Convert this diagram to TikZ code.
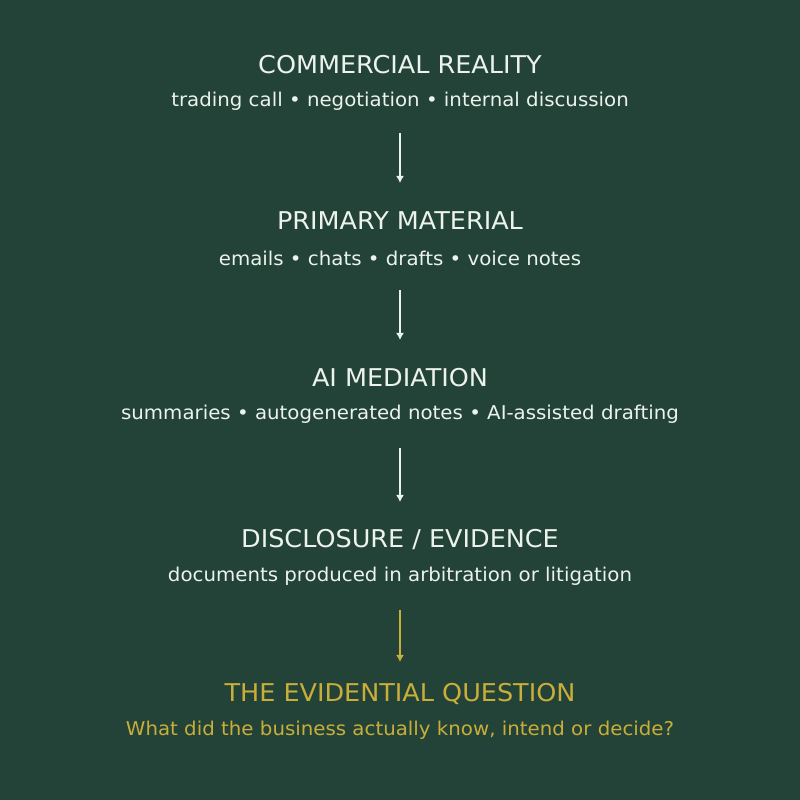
\documentclass[tikz,border=0pt]{standalone}
\usepackage{fontspec}
\setmainfont{DejaVu Sans}[FakeStretch=1.04]
\usepackage{tikz}
\usetikzlibrary{arrows,arrows.meta}
\definecolor{bgreen}{RGB}{35,67,56}
\definecolor{chalk}{RGB}{236,242,236}
\definecolor{gold}{RGB}{201,174,58}

\begin{document}
\begin{tikzpicture}[>={Latex[length=7bp,width=8bp]},x=1bp,y=1bp]
 \tikzstyle{stage}=[text=chalk,font=\fontsize{24.6}{28}\selectfont]
 \tikzstyle{detail}=[text=chalk,font=\fontsize{19.1}{22}\selectfont]
 \tikzstyle{link}=[->,draw=chalk,line width=1.5bp]
 \fill[bgreen] (0,0) rectangle (800,800);
 \useasboundingbox (0,0) rectangle (800,800);

 \node (real) at (400,735) [stage] {COMMERCIAL REALITY};
 \node (realsub) at (400,699) [detail] {trading call • negotiation • internal discussion};
 \node (prim) at (400,579) [stage] {PRIMARY MATERIAL};
 \node (primsub) at (400,542) [detail] {emails • chats • drafts • voice notes};
 \node (ai) at (400,422) [stage] {AI MEDIATION};
 \node (aisub) at (400,386) [detail] {summaries • autogenerated notes • AI-assisted drafting};
 \node (disc) at (400,260) [stage] {DISCLOSURE / EVIDENCE};
 \node (discsub) at (400,224) [detail] {documents produced in arbitration or litigation};
 \node (quest) at (400,106) [stage,text=gold] {THE EVIDENTIAL QUESTION};
 \node (questsub) at (400,70) [detail,text=gold] {What did the business actually know, intend or decide?};

 \draw [link] ([yshift=-32bp]realsub.center) to ([yshift=38bp]prim.center);
 \draw [link] ([yshift=-32bp]primsub.center) to ([yshift=38bp]ai.center);
 \draw [link] ([yshift=-34bp]aisub.center) to ([yshift=38bp]disc.center);
 \draw [link,draw=gold] ([yshift=-34bp]discsub.center) to ([yshift=32bp]quest.center);
\end{tikzpicture}
\end{document}
